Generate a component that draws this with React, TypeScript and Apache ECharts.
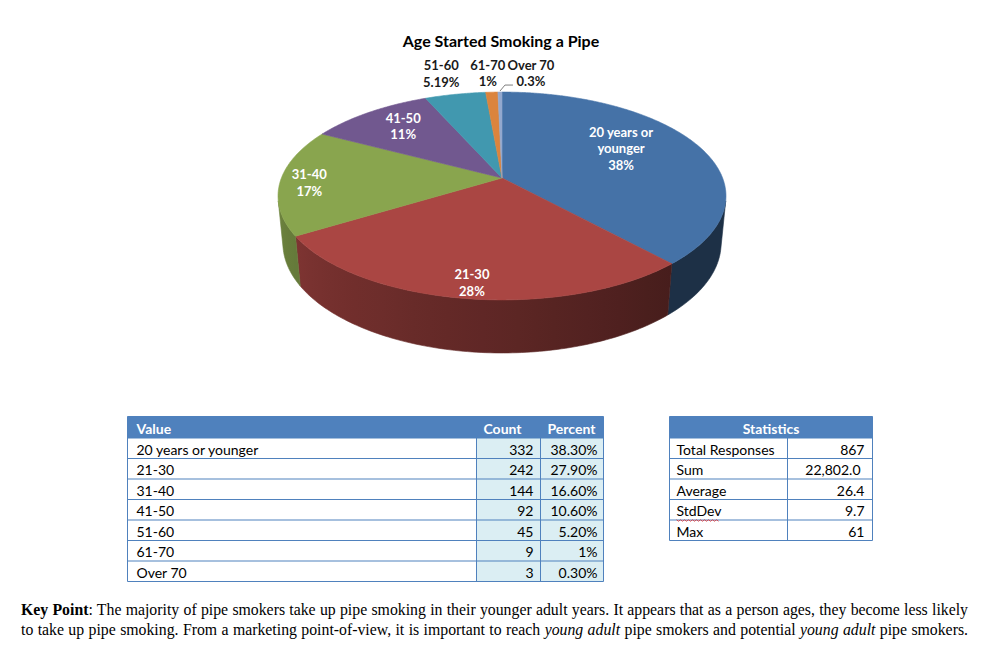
import React, { useEffect, useRef } from "react";
import * as echarts from "echarts";

// ---------- data ----------
const TITLE = "Age Started Smoking a Pipe";
const CATEGORIES = ["20 years or younger", "21-30", "31-40", "41-50", "51-60", "61-70", "Over 70"];
const COUNTS = [332, 242, 144, 92, 45, 9, 3];
const PERCENTS = ["38.30%", "27.90%", "16.60%", "10.60%", "5.20%", "1%", "0.30%"];
const PIE_LABELS = ["20 years or\nyounger\n38%", "21-30\n28%", "31-40\n17%", "41-50\n11%", "51-60\n5.19%", "61-70\n1%", "Over 70\n0.3%"];
const TABLE_HEADERS = ["Value", "Count", "Percent"];
const STATS_TITLE = "Statistics";
const STAT_NAMES = ["Total Responses", "Sum", "Average", "StdDev", "Max"];
const STAT_VALUES = ["867", "22,802.0", "26.4", "9.7", "61"];
const NOTE_LINE1_BOLD = "Key Point";
const NOTE_LINE1 = ": The majority of pipe smokers take up pipe smoking in their younger adult years. It appears that as a person ages, they become less likely";
const NOTE_LINE2 = ["to take up pipe smoking. From a marketing point-of-view, it is important to reach ", "young adult", " pipe smokers and potential ", "young adult", " pipe smokers."];

// ---------- styles ----------
const COLORS = ["#4572A7", "#AA4643", "#89A54E", "#71588F", "#4198AF", "#DB843D", "#93A9CF"];
const LABEL_LAYOUT = [
  { r: 0.6, dx: 0, dy: -9, color: "#ffffff", leader: false },
  { r: 0.83, dx: 0, dy: 8, color: "#ffffff", leader: false },
  { r: 0.87, dx: 0, dy: 2, color: "#ffffff", leader: false },
  { r: 0.72, dx: 0, dy: -3, color: "#ffffff", leader: false },
  { r: 1, dx: -14, dy: -21, color: "#1a1a1a", leader: false },
  { r: 1, dx: -4, dy: -19, color: "#1a1a1a", leader: false },
  { r: 1, dx: 31, dy: -19, color: "#1a1a1a", leader: true },
];
const FONT = "Lato, 'Noto Sans', sans-serif";
const BLUE = "#4F81BD";
const CELL = "#DBEEF3";

// 3D pie projection (perspective camera)
const CX = 502;
const CY = 178;
const FOC = 1133.6;
const RHO = 0.1946;
const SIN_A = 0.457;
const COS_A = 0.889;
const DEPTH = 0.0473;
const VIS0 = 102.64;
const VIS1 = 257.36;

function project(r: number, phiDeg: number, bottom: boolean): [number, number] {
  const p = (phiDeg * Math.PI) / 180;
  const X = r * RHO * Math.sin(p);
  const Z = -r * RHO * Math.cos(p);
  const Y = bottom ? -DEPTH : 0;
  const yc = Y * COS_A - Z * SIN_A;
  const zc = 1 - (Y * SIN_A + Z * COS_A);
  return [CX + (FOC * X) / zc, CY - (FOC * yc) / zc];
}

function shade(hex: string, f: number): string {
  const n = parseInt(hex.slice(1), 16);
  const r = Math.round(((n >> 16) & 255) * f);
  const g = Math.round(((n >> 8) & 255) * f);
  const b = Math.round((n & 255) * f);
  return `rgb(${r},${g},${b})`;
}

function wallFactor(phi: number): number {
  const t = Math.min(1, Math.max(0, (phi - 140) / 117));
  return 0.42 + 0.38 * t;
}

function sampleAngles(a0: number, a1: number, step: number): number[] {
  const n = Math.max(1, Math.ceil((a1 - a0) / step));
  const out: number[] = [];
  for (let k = 0; k <= n; k++) out.push(a0 + ((a1 - a0) * k) / n);
  return out;
}

function buildOption() {
  const total = COUNTS.reduce((a, b) => a + b, 0);
  const starts: number[] = [];
  let acc = 0;
  COUNTS.forEach((v) => {
    starts.push((acc / total) * 360);
    acc += v;
  });

  const renderItem = (params: any, api: any) => {
    const i = params.dataIndex;
    const v = api.value(0) as number;
    const a0 = starts[i];
    const a1 = a0 + (v / total) * 360;
    const color = COLORS[i % COLORS.length];
    const children: any[] = [];

    // side wall
    const w0 = Math.max(a0, VIS0);
    const w1 = Math.min(a1, VIS1);
    if (w1 > w0) {
      const angs = sampleAngles(w0, w1, 1);
      const topPts = angs.map((a) => project(1, a, false));
      const botPts = angs.map((a) => project(1, a, true)).reverse();
      const xs = topPts.map((p) => p[0]).concat(botPts.map((p) => p[0]));
      const xmin = Math.min(...xs);
      const xmax = Math.max(...xs);
      const stopAngs = sampleAngles(w0, w1, 8);
      const stops = stopAngs
        .map((a) => {
          const x = project(1, a, false)[0];
          return { offset: Math.min(1, Math.max(0, (x - xmin) / Math.max(1, xmax - xmin))), color: shade(color, wallFactor(a)) };
        })
        .sort((p, q) => p.offset - q.offset);
      const grad = new echarts.graphic.LinearGradient(xmin, 0, xmax, 0, stops, true);
      children.push({
        type: "polygon",
        shape: { points: topPts.concat(botPts) },
        style: { fill: grad, stroke: grad, lineWidth: 0.6 },
      });
    }

    // top face
    const arc = sampleAngles(a0, a1, 0.5).map((a) => project(1, a, false));
    children.push({
      type: "polygon",
      shape: { points: [[CX, CY] as [number, number]].concat(arc) },
      style: { fill: color, stroke: color, lineWidth: 0.6 },
    });

    // label
    const lay = LABEL_LAYOUT[i];
    const mid = (a0 + a1) / 2;
    const anchor = project(lay.r, mid, false);
    const lx = anchor[0] + lay.dx;
    const ly = anchor[1] + lay.dy;
    children.push({
      type: "text",
      z2: 100,
      style: {
        text: PIE_LABELS[i],
        x: lx,
        y: ly,
        fill: lay.color,
        fontFamily: FONT,
        fontWeight: "bold",
        fontSize: 13,
        lineHeight: 16.5,
        align: "center",
        verticalAlign: "middle",
      },
    });
    if (lay.leader) {
      const edge = project(1, mid, false);
      children.push({
        type: "polyline",
        z2: 100,
        shape: { points: [[edge[0], edge[1] - 1], [edge[0] + 5, ly + 12], [lx - 18, ly + 12]] },
        style: { stroke: "#7f7f7f", lineWidth: 1, fill: "none" },
      });
    }
    return { type: "group", children };
  };

  // ---------- tables (graphic) ----------
  const g: any[] = [];
  const text = (t: string, x: number, y: number, align: string, opts: any = {}) =>
    g.push({
      type: "text",
      z: 10,
      style: {
        text: t,
        x,
        y,
        align,
        verticalAlign: "middle",
        fill: opts.fill || "#000000",
        fontFamily: FONT,
        fontSize: opts.fontSize || 14,
        fontWeight: opts.bold ? "bold" : "normal",
      },
    });
  const line = (x1: number, y1: number, x2: number, y2: number) =>
    g.push({ type: "line", z: 9, shape: { x1, y1, x2, y2 }, style: { stroke: BLUE, lineWidth: 1 } });
  const rect = (x: number, y: number, w: number, h: number, fill: string) =>
    g.push({ type: "rect", z: 8, shape: { x, y, width: w, height: h }, style: { fill } });

  // title
  g.push({
    type: "text",
    z: 10,
    style: { text: TITLE, x: 501, y: 40, align: "center", verticalAlign: "middle", fill: "#000", fontFamily: FONT, fontWeight: "bold", fontSize: 16 },
  });

  const headTop = 416.5;
  const headBot = 438;
  const rowH = 20.5;

  // value table
  const cols = [127.5, 476.5, 540.5, 603.5];
  const nRows = CATEGORIES.length;
  const tBot = headBot + rowH * nRows;
  rect(cols[0], headTop, cols[3] - cols[0], headBot - headTop, BLUE);
  rect(cols[1], headBot, cols[3] - cols[1], tBot - headBot, CELL);
  line(cols[0], headTop, cols[3], headTop);
  for (let r = 0; r <= nRows; r++) line(cols[0], headBot + rowH * r, cols[3], headBot + rowH * r);
  line(cols[0], headTop, cols[0], tBot);
  line(cols[3], headTop, cols[3], tBot);
  line(cols[1], headBot, cols[1], tBot);
  line(cols[2], headBot, cols[2], tBot);
  text(TABLE_HEADERS[0], cols[0] + 9, (headTop + headBot) / 2 + 1, "left", { fill: "#fff", bold: true });
  text(TABLE_HEADERS[1], cols[1] + 7, (headTop + headBot) / 2 + 1, "left", { fill: "#fff", bold: true });
  text(TABLE_HEADERS[2], cols[2] + 7, (headTop + headBot) / 2 + 1, "left", { fill: "#fff", bold: true });
  CATEGORIES.forEach((c, r) => {
    const yc = headBot + rowH * r + rowH / 2 + 1;
    text(c, cols[0] + 9, yc, "left");
    text(String(COUNTS[r]), cols[2] - 7, yc, "right");
    text(PERCENTS[r], cols[3] - 6, yc, "right");
  });

  // statistics table
  const sc = [669.5, 787.5, 872.5];
  const sRows = STAT_NAMES.length;
  const sBot = headBot + rowH * sRows;
  rect(sc[0], headTop, sc[2] - sc[0], headBot - headTop, BLUE);
  line(sc[0], headTop, sc[2], headTop);
  for (let r = 0; r <= sRows; r++) line(sc[0], headBot + rowH * r, sc[2], headBot + rowH * r);
  line(sc[0], headTop, sc[0], sBot);
  line(sc[2], headTop, sc[2], sBot);
  line(sc[1], headBot, sc[1], sBot);
  text(STATS_TITLE, (sc[0] + sc[2]) / 2, (headTop + headBot) / 2 + 1, "center", { fill: "#fff", bold: true });
  STAT_NAMES.forEach((n, r) => {
    const yc = headBot + rowH * r + rowH / 2 + 1;
    text(n, sc[0] + 7, yc, "left");
    text(STAT_VALUES[r], sc[2] - 8 - (r === 1 ? 4 : 0), yc, "right");
    if (n === "StdDev") {
      const pts: [number, number][] = [];
      for (let x = sc[0] + 7, k = 0; x <= sc[0] + 50; x += 2, k++) pts.push([x, yc + 9 + (k % 2 === 0 ? 0 : 1.5)]);
      g.push({ type: "polyline", z: 11, shape: { points: pts }, style: { stroke: "#e03030", lineWidth: 0.8, fill: "none" } });
    }
  });

  return {
    animation: false,
    backgroundColor: "#ffffff",
    graphic: { elements: g },
    series: [
      {
        type: "custom",
        coordinateSystem: "none",
        silent: true,
        renderItem,
        data: COUNTS,
      },
    ],
  };
}

export default function App() {
  const ref = useRef<HTMLDivElement>(null);
  useEffect(() => {
    if (!ref.current) return;
    const chart = echarts.init(ref.current, undefined, { renderer: "svg" });
    chart.setOption(buildOption() as any);
    return () => chart.dispose();
  }, []);
  const lineStyle: React.CSSProperties = { textAlign: "justify", textAlignLast: "justify", whiteSpace: "nowrap", height: 20 };
  return (
    <div style={{ position: "absolute", left: 0, top: 0, width: 995, height: 665, background: "#fff" }}>
      <div ref={ref} style={{ position: "absolute", left: 0, top: 0, width: 995, height: 665 }} />
      <div
        style={{
          position: "absolute",
          left: 21,
          top: 600,
          width: 947,
          fontFamily: "'Liberation Serif', 'Times New Roman', serif",
          fontSize: 15.8,
          lineHeight: "20px",
          color: "#000",
        }}
      >
        <div style={lineStyle}>
          <b>{NOTE_LINE1_BOLD}</b>
          {NOTE_LINE1}
        </div>
        <div style={lineStyle}>
          {NOTE_LINE2[0]}
          <i>{NOTE_LINE2[1]}</i>
          {NOTE_LINE2[2]}
          <i>{NOTE_LINE2[3]}</i>
          {NOTE_LINE2[4]}
        </div>
      </div>
    </div>
  );
}
